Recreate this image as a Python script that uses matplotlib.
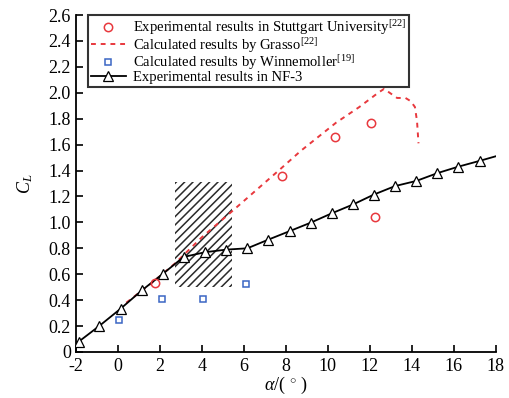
import matplotlib
matplotlib.use("Agg")
import matplotlib.pyplot as plt
from matplotlib.patches import Rectangle

plt.rcParams["font.family"] = ["Liberation Serif", "DejaVu Serif"]
plt.rcParams["mathtext.fontset"] = "custom"
plt.rcParams["mathtext.rm"] = "Liberation Serif"
plt.rcParams["mathtext.it"] = "Liberation Serif:italic"
plt.rcParams["axes.unicode_minus"] = False
plt.rcParams["hatch.linewidth"] = 1.1

# NF-3 wind tunnel measurements
nf3_alpha = [-1.86, -0.89, 0.14, 1.14, 2.16, 3.13, 4.16, 5.17, 6.17, 7.17,
             8.19, 9.19, 10.19, 11.2, 12.2, 13.2, 14.22, 15.22, 16.22, 17.24]
nf3_cl = [0.08, 0.20, 0.335, 0.475, 0.605, 0.733, 0.77, 0.79, 0.80, 0.867,
          0.933, 0.998, 1.07, 1.138, 1.215, 1.28, 1.32, 1.38, 1.43, 1.475]
# fitted ends of the NF-3 curve (drawn without markers)
nf3_start = (-2.0, 0.07)
nf3_end = (18.0, 1.51)

# Stuttgart University experiments [22]
stutt_alpha = [1.78, 7.84, 10.35, 12.05, 12.25]
stutt_cl = [0.536, 1.36, 1.656, 1.767, 1.04]

# Grasso computation [22]
grasso_alpha = [0.4, 1.6, 2.7, 4.0, 5.4, 6.6, 7.8, 8.7, 10.4, 11.5, 12.4,
                12.68, 13.3, 13.7, 13.95, 14.15, 14.25, 14.32]
grasso_cl = [0.38, 0.53, 0.68, 0.885, 1.08, 1.25, 1.42, 1.55, 1.77, 1.89, 2.0,
             2.03, 1.96, 1.96, 1.935, 1.89, 1.78, 1.61]

# Winnemoller computation [19]
winn_alpha = [0.06, 2.08, 4.06, 6.1]
winn_cl = [0.246, 0.408, 0.408, 0.523]

# hatched region (alpha range, CL range)
hatch_alpha = (2.7, 5.45)
hatch_cl = (0.5, 1.31)

xticks = list(range(-2, 19, 2))
yticks = [round(0.2 * i, 1) for i in range(14)]
ytick_labels = ["0"] + [f"{v:.1f}" for v in yticks[1:]]

fig = plt.figure(figsize=(5.09, 3.98), dpi=100)
ax = fig.add_axes([0.149, 0.1156, 0.825, 0.8467])

ax.add_patch(Rectangle((hatch_alpha[0], hatch_cl[0]),
                       hatch_alpha[1] - hatch_alpha[0], hatch_cl[1] - hatch_cl[0],
                       fill=False, hatch="////", edgecolor="#2a2a2a", linewidth=0,
                       zorder=1))

ax.plot(grasso_alpha, grasso_cl, color="#e8383d", lw=1.4, ls=(0, (2.5, 2.5)),
        label="Calculated results by Grasso$^{[22]}$", zorder=2)

line_x = [nf3_start[0]] + nf3_alpha + [nf3_end[0]]
line_y = [nf3_start[1]] + nf3_cl + [nf3_end[1]]
ax.plot(line_x, line_y, color="black", lw=1.3, marker="^", ms=6.5, mfc="white",
        mec="black", mew=0.9, markevery=list(range(1, len(line_x) - 1)),
        label="Experimental results in NF-3", zorder=3)

ax.plot(stutt_alpha, stutt_cl, ls="none", marker="o", ms=6, mfc="none",
        mec="#e8383d", mew=1.1,
        label="Experimental results in Stuttgart University$^{[22]}$", zorder=4)
ax.plot(winn_alpha, winn_cl, ls="none", marker="s", ms=5, mfc="none",
        mec="#3a66c4", mew=1.1,
        label="Calculated results by Winnemoller$^{[19]}$", zorder=4)

ax.set_xlim(-2, 18)
ax.set_ylim(0, 2.6)
ax.set_xticks(xticks)
ax.set_yticks(yticks)
ax.set_yticklabels(ytick_labels)
ax.tick_params(direction="in", length=5, width=1.2, labelsize=13)
ax.tick_params(axis="x", pad=4)
for side in ("top", "right"):
    ax.spines[side].set_visible(False)
for side in ("left", "bottom"):
    ax.spines[side].set_linewidth(1.3)

ax.set_xlabel(r"$\alpha$/( $^{\circ}$ )", fontsize=13, labelpad=0)
ax.set_ylabel(r"$C_L$", fontsize=13, labelpad=10)

handles, labels = ax.get_legend_handles_labels()
order = [2, 0, 3, 1]
leg = ax.legend([handles[i] for i in order], [labels[i] for i in order],
                loc="upper left", bbox_to_anchor=(0.0286, 1.0), borderaxespad=0,
                fontsize=10.5, frameon=True, fancybox=False, labelspacing=-0.08,
                handlelength=2.4, handletextpad=0.5, borderpad=0.2)
leg.get_frame().set_edgecolor("black")
leg.get_frame().set_linewidth(1.5)

fig.savefig("out.png", dpi=100)
